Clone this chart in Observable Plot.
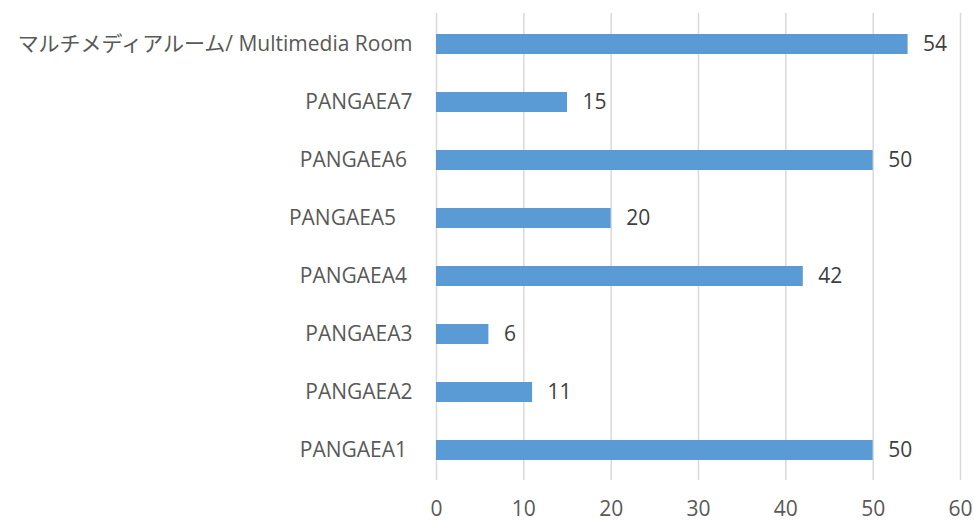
<!DOCTYPE html>
<html>
<head>
<meta charset="utf-8">
<script src="https://cdn.jsdelivr.net/npm/d3@7"></script>
<script src="https://cdn.jsdelivr.net/npm/@observablehq/plot@0.6"></script>
<style>
  html, body { margin: 0; padding: 0; background: #fff; }
  #chart svg { display: block; }
</style>
</head>
<body>
<div id="chart"></div>
<script>
const categories = [
  "マルチメディアルーム/ Multimedia Room",
  "PANGAEA7",
  "PANGAEA6\u00a0",
  "PANGAEA5\u00a0\u00a0\u00a0",
  "PANGAEA4\u00a0",
  "PANGAEA3",
  "PANGAEA2",
  "PANGAEA1\u00a0"
];
const values = [54, 15, 50, 20, 42, 6, 11, 50];
const xTicks = [0, 10, 20, 30, 40, 50, 60];

const data = categories.map((c, i) => ({category: c, value: values[i]}));

const chart = Plot.plot({
  width: 974,
  height: 522,
  marginLeft: 436,
  marginRight: 14,
  marginTop: 13,
  marginBottom: 42,
  style: {fontFamily: "'Open Sans', 'Noto Sans CJK JP', sans-serif", fontSize: "21px", background: "#fff"},
  x: {domain: [0, 60], ticks: xTicks},
  y: {domain: categories, paddingInner: 0.66, paddingOuter: 0.33},
  marks: [
    Plot.gridX(xTicks, {stroke: "#d9d9d9", strokeWidth: 1.5, strokeOpacity: 1}),
    Plot.barX(data, {x: "value", y: "category", fill: "#5b9bd5"}),
    Plot.text(data, {x: "value", y: "category", text: d => String(d.value), textAnchor: "start", dx: 15, fill: "#404040", fontSize: 21}),
    Plot.axisX({ticks: xTicks, tickSize: 0, tickPadding: 21, color: "#595959", fontSize: 21, label: null}),
    Plot.axisY({tickSize: 0, tickPadding: 24, color: "#595959", fontSize: 21, label: null})
  ]
});
document.getElementById("chart").appendChild(chart);
</script>
</body>
</html>
